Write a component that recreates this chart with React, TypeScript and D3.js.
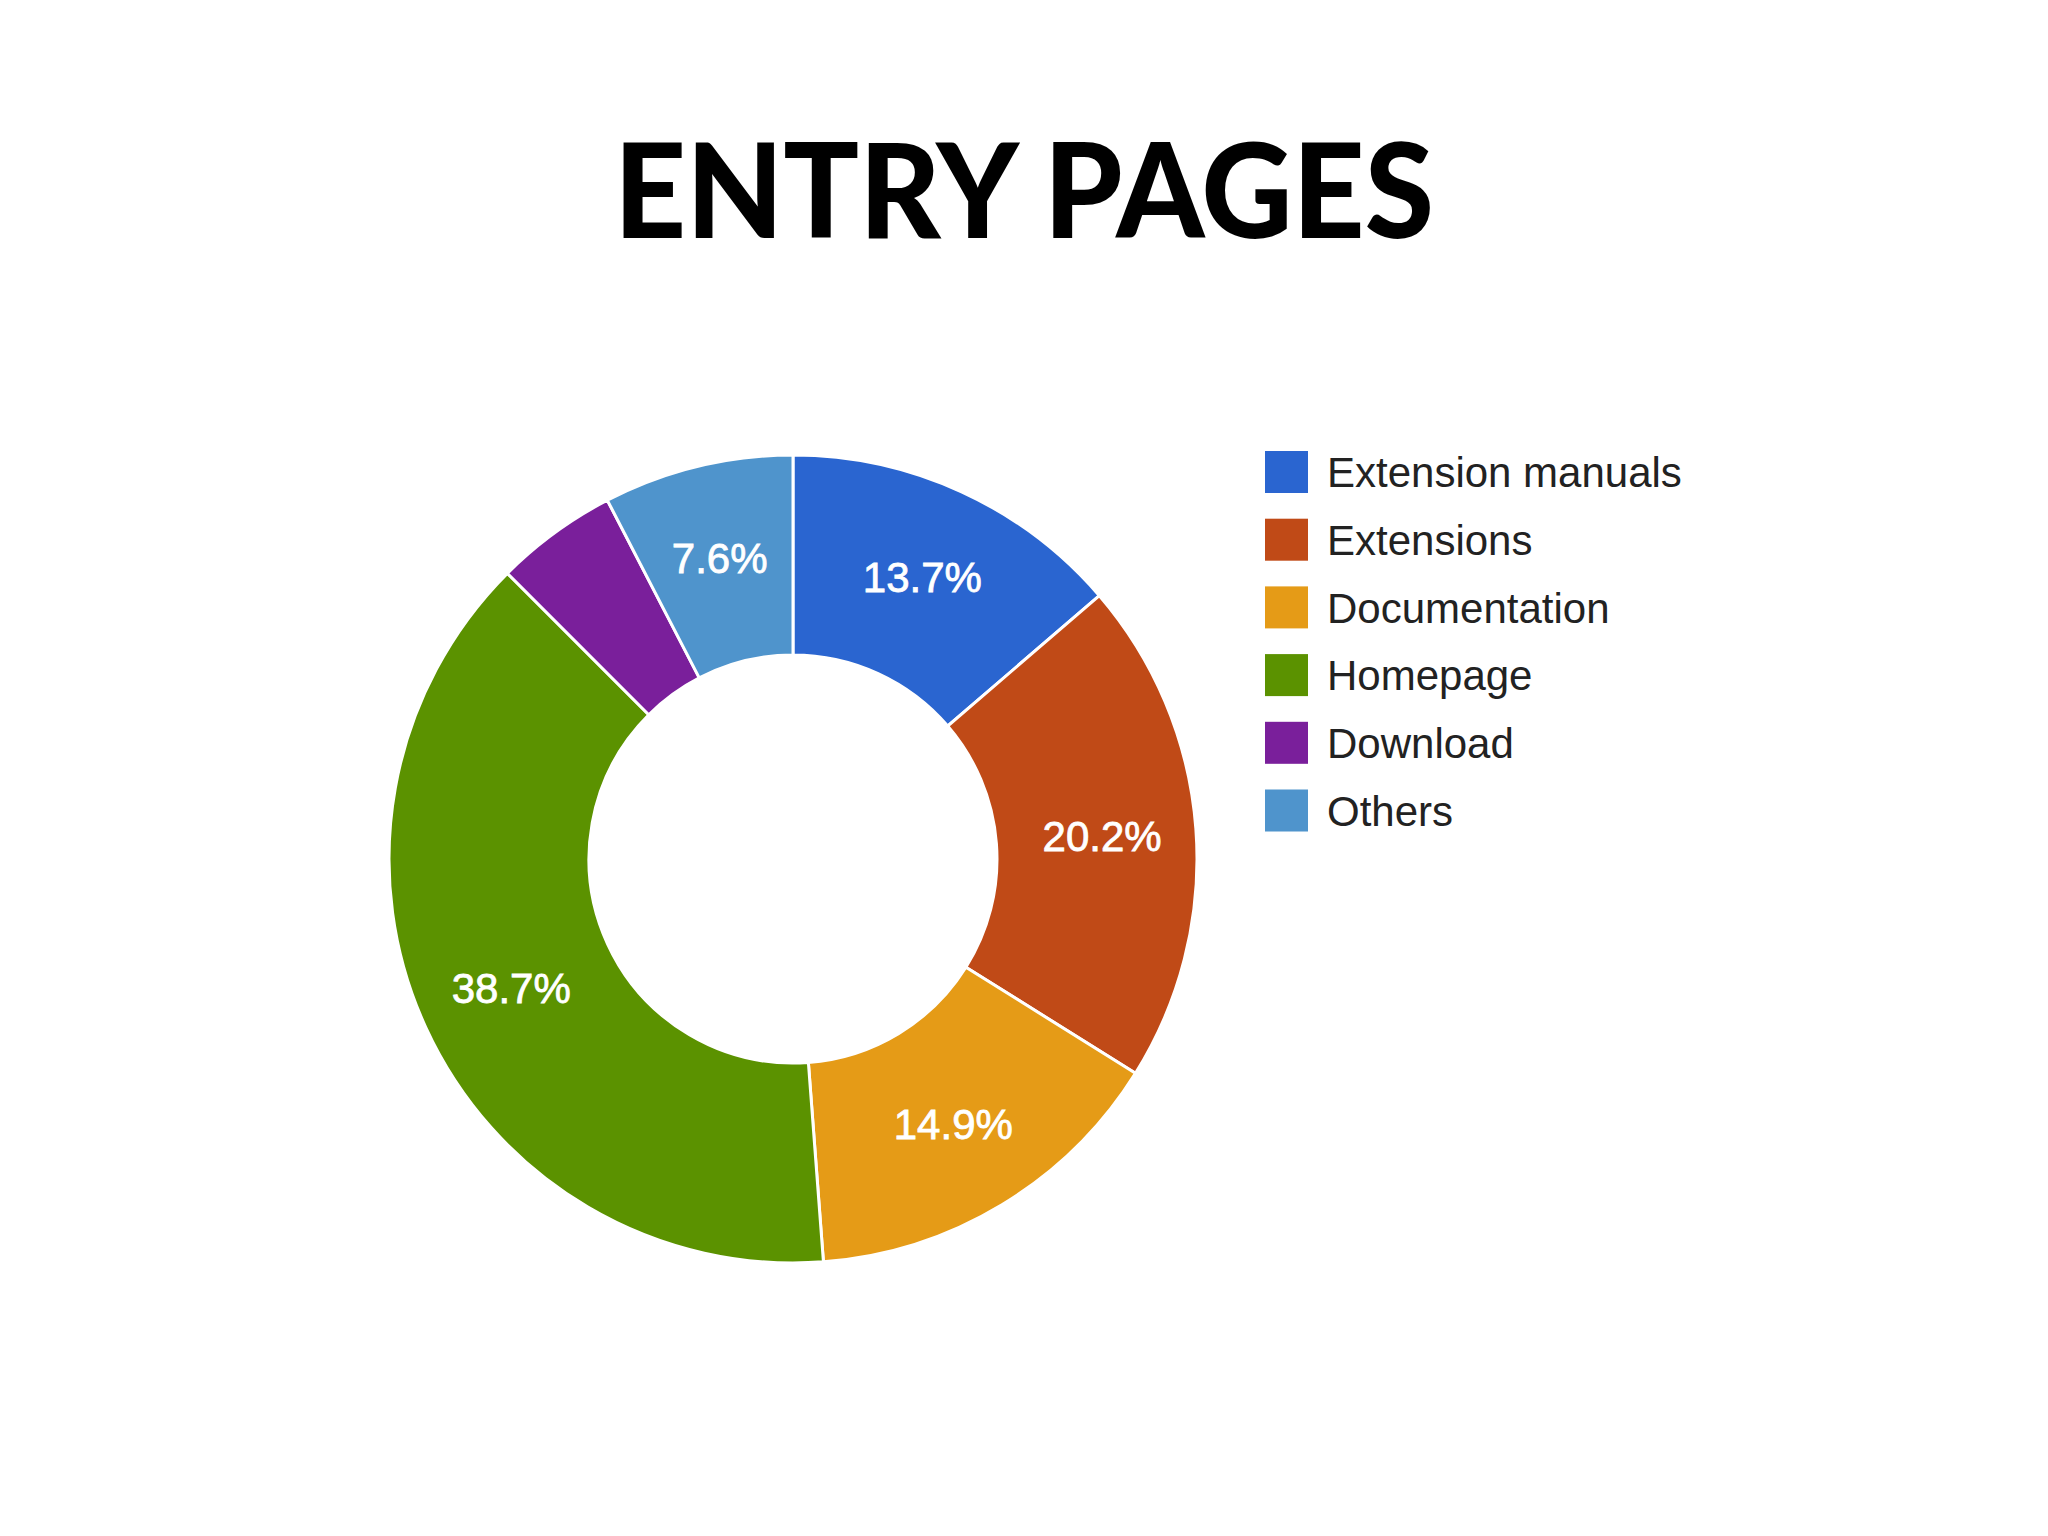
import { useEffect, useRef } from 'react';
import * as d3 from 'd3';

// Data
const categories = ['Extension manuals', 'Extensions', 'Documentation', 'Homepage', 'Download', 'Others'];
const shares = [13.7, 20.2, 14.9, 38.7, 4.9, 7.6];
const colors = ['#2a65d0', '#c04a17', '#e59b17', '#5b9200', '#7a1f9b', '#4f94cc'];
const title = 'ENTRY PAGES';

const width = 2048;
const height = 1536;
const cx = 793;
const cy = 859;
const outerR = 404;
const innerR = 204;

function drawChart(node: SVGSVGElement) {
  const svg = d3.select(node);
  svg.selectAll('*').remove();

  svg.append('rect')
    .attr('width', width)
    .attr('height', height)
    .attr('fill', '#ffffff');

  // title
  svg.append('text')
    .attr('x', 1024)
    .attr('y', 238)
    .attr('text-anchor', 'middle')
    .attr('font-family', 'Lato, "DejaVu Sans", sans-serif')
    .attr('font-weight', 900)
    .attr('font-size', 132)
    .attr('textLength', 820)
    .attr('lengthAdjust', 'spacingAndGlyphs')
    .attr('fill', '#000')
    .text(title);

  const pie = d3.pie<number>().sort(null).value(d => d);
  const arcs = pie(shares);

  const arc = d3.arc<d3.PieArcDatum<number>>()
    .innerRadius(innerR)
    .outerRadius(outerR);

  const labelArc = d3.arc<d3.PieArcDatum<number>>()
    .innerRadius(310)
    .outerRadius(310);

  const g = svg.append('g')
    .attr('transform', 'translate(' + cx + ', ' + cy + ')');

  g.selectAll('path')
    .data(arcs)
    .join('path')
    .attr('d', arc)
    .attr('fill', (d, i) => colors[i])
    .attr('stroke', '#ffffff')
    .attr('stroke-width', 3);

  // google hides labels on tiny slices
  g.selectAll('text')
    .data(arcs.filter(d => d.data >= 5))
    .join('text')
    .attr('transform', d => 'translate(' + labelArc.centroid(d) + ')')
    .attr('text-anchor', 'middle')
    .attr('dy', '0.36em')
    .attr('font-family', '"Liberation Sans", Arial, sans-serif')
    .attr('font-size', 42)
    .attr('fill', '#ffffff')
    .attr('stroke', '#ffffff')
    .attr('stroke-width', 0.8)
    .text(d => d.data.toFixed(1) + '%');

  // legend
  const legend = svg.append('g')
    .attr('transform', 'translate(1265, 472)');

  const rows = legend.selectAll('g')
    .data(categories)
    .join('g')
    .attr('transform', (d, i) => 'translate(0, ' + (i * 67.7) + ')');

  rows.append('rect')
    .attr('x', 0)
    .attr('y', -21)
    .attr('width', 43)
    .attr('height', 42)
    .attr('fill', (d, i) => colors[i]);

  rows.append('text')
    .attr('x', 62)
    .attr('dy', '0.36em')
    .attr('font-family', '"Liberation Sans", Arial, sans-serif')
    .attr('font-size', 42)
    .attr('fill', '#222222')
    .text(d => d);
}

export default function App() {
  const ref = useRef<SVGSVGElement>(null);

  useEffect(() => {
    document.body.style.margin = '0';
    if (ref.current) drawChart(ref.current);
  }, []);

  return <svg ref={ref} width={width} height={height} style={{ display: 'block' }} />;
}
